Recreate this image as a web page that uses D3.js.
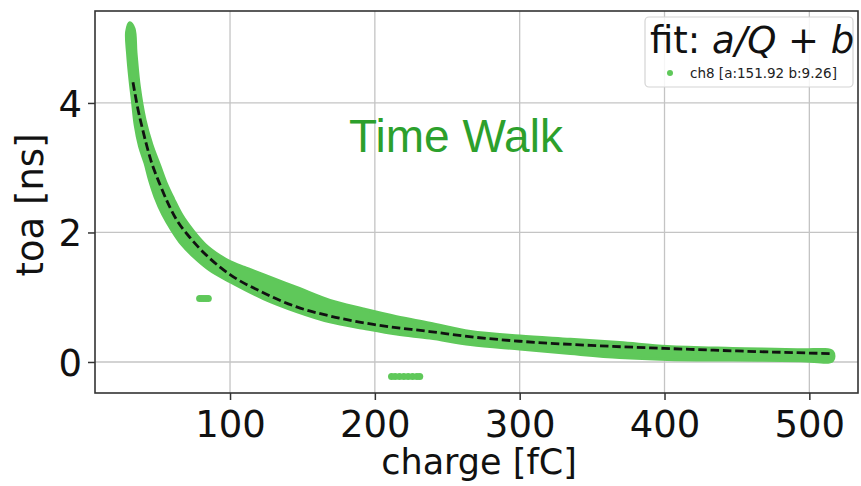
<!DOCTYPE html>
<html>
<head>
<meta charset="utf-8">
<script src="https://cdn.jsdelivr.net/npm/d3@7"></script>
<style>
  html, body { margin: 0; padding: 0; background: #fff; }
  svg { display: block; }
</style>
</head>
<body>
<svg id="chart" width="861" height="486"></svg>
<script>
// Measured time-of-arrival band (ch8): lower/left and upper/right edges of the point cloud
const lowerCharge = [28.6, 29.3, 30.9, 32.5, 34.5, 37.5, 41.3, 44.5, 48.2, 53.5, 59.7, 66.5, 74.7, 86, 100, 123, 146, 169, 192, 215, 238, 266, 300, 335, 369, 402, 447, 494, 516];
const lowerToa    = [5.10, 4.75, 4.36, 4.05, 3.66, 3.33, 3.07, 2.80, 2.55, 2.28, 2.04, 1.82, 1.63, 1.42, 1.24, 0.98, 0.78, 0.62, 0.52, 0.43, 0.37, 0.27, 0.20, 0.13, 0.07, 0.04, 0.03, 0.02, 0.02];
const upperCharge = [30.8, 33.7, 35.1, 37.4, 41.3, 46, 51.7, 56, 61, 67, 74.7, 83, 93, 100, 110, 123, 146, 169, 192, 215, 238, 266, 300, 335, 369, 402, 447, 494, 516];
const upperToa    = [5.24, 5.15, 4.77, 4.25, 3.74, 3.36, 3.02, 2.76, 2.52, 2.26, 2.02, 1.81, 1.64, 1.55, 1.46, 1.35, 1.15, 0.95, 0.82, 0.70, 0.60, 0.47, 0.40, 0.35, 0.30, 0.24, 0.21, 0.19, 0.16];

// Two small detached clusters of hits
const clusterACharge = [79, 80.5, 82, 83.5, 85];
const clusterAToa    = [0.98, 0.98, 0.98, 0.98, 0.98];
const clusterBCharge = [211.5, 214, 217, 220, 223, 226, 229, 231];
const clusterBToa    = [-0.224, -0.224, -0.224, -0.224, -0.224, -0.224, -0.224, -0.224];

// Fitted time-walk curve a/Q + b
const fitCharge = [33, 36, 40, 45, 52, 63, 72, 86, 100, 123, 146, 169, 199, 238, 270, 300, 355, 400, 450, 514];
const fitToa    = [4.32, 3.95, 3.56, 3.14, 2.72, 2.20, 1.93, 1.60, 1.35, 1.07, 0.85, 0.71, 0.58, 0.47, 0.38, 0.32, 0.25, 0.21, 0.17, 0.13];

const xTicks = [100, 200, 300, 400, 500];
const yTicks = [0, 2, 4];
const legendLabel = "ch8 [a:151.92 b:9.26]";

const green = "#5fc85a";
const plotLeft = 95, plotRight = 858, plotTop = 11, plotBottom = 393;
const dejavu = "'DejaVu Sans', sans-serif";

const svg = d3.select("#chart");
const x = d3.scaleLinear().domain([6.77, 533.6]).range([plotLeft, plotRight]);
const y = d3.scaleLinear().domain([-0.479, 5.42]).range([plotBottom, plotTop]);

// grid
const grid = svg.append("g");
grid.selectAll("line.vx").data(xTicks).join("line")
  .attr("x1", d => x(d)).attr("x2", d => x(d)).attr("y1", plotTop).attr("y2", plotBottom)
  .attr("stroke", "#c4c4c4").attr("stroke-width", 1.3);
grid.selectAll("line.hy").data(yTicks).join("line")
  .attr("x1", plotLeft).attr("x2", plotRight).attr("y1", d => y(d)).attr("y2", d => y(d))
  .attr("stroke", "#c4c4c4").attr("stroke-width", 1.3);

// scatter band as a closed outline
const outline = lowerCharge.map((c, i) => [c, lowerToa[i]])
  .concat(upperCharge.map((c, i) => [c, upperToa[i]]).reverse());
const bandPath = d3.line().x(d => x(d[0])).y(d => y(d[1])).curve(d3.curveCatmullRomClosed.alpha(0.5));
svg.append("path").attr("d", bandPath(outline))
  .attr("fill", green).attr("stroke", green).attr("stroke-width", 3).attr("stroke-linejoin", "round");

// detached clusters
const clusters = clusterACharge.map((c, i) => [c, clusterAToa[i]])
  .concat(clusterBCharge.map((c, i) => [c, clusterBToa[i]]));
svg.append("g").selectAll("circle").data(clusters).join("circle")
  .attr("cx", d => x(d[0])).attr("cy", d => y(d[1])).attr("r", 3.5).attr("fill", green);

// fit line
const fitLine = d3.line().x(d => x(d[0])).y(d => y(d[1])).curve(d3.curveMonotoneX);
svg.append("path").attr("d", fitLine(fitCharge.map((c, i) => [c, fitToa[i]])))
  .attr("fill", "none").attr("stroke", "#111").attr("stroke-width", 2.8)
  .attr("stroke-dasharray", "8.5,3.8");

// axes
const xAxis = svg.append("g").attr("transform", `translate(0,${plotBottom})`)
  .call(d3.axisBottom(x).tickValues(xTicks).tickSize(7).tickPadding(8).tickFormat(d3.format("d")));
const yAxis = svg.append("g").attr("transform", `translate(${plotLeft},0)`)
  .call(d3.axisLeft(y).tickValues(yTicks).tickSize(7).tickPadding(6).tickFormat(d3.format("d")));
[xAxis, yAxis].forEach(g => {
  g.select(".domain").remove();
  g.selectAll(".tick line").attr("stroke", "#333").attr("stroke-width", 1.5);
  g.selectAll(".tick text").style("font-family", dejavu).attr("font-size", 37).attr("fill", "#111");
});
xAxis.selectAll(".tick text").attr("dy", null).attr("y", 44);
yAxis.selectAll(".tick text").attr("dy", "0.36em");

// frame
svg.append("rect").attr("x", plotLeft).attr("y", plotTop)
  .attr("width", plotRight - plotLeft).attr("height", plotBottom - plotTop)
  .attr("fill", "none").attr("stroke", "#333").attr("stroke-width", 1.6);

// axis labels
svg.append("text").attr("x", 479).attr("y", 474).attr("text-anchor", "middle")
  .style("font-family", dejavu).attr("font-size", 35).attr("fill", "#111").text("charge [fC]");
svg.append("text").attr("transform", "translate(43,205) rotate(-90)").attr("text-anchor", "middle")
  .style("font-family", dejavu).attr("font-size", 37).attr("fill", "#111").text("toa [ns]");

// in-plot title
svg.append("text").attr("x", 456).attr("y", 152).attr("text-anchor", "middle")
  .style("font-family", "'Liberation Sans', Arial, sans-serif").attr("font-size", 46)
  .attr("fill", "#2ca02c").text("Time Walk");

// legend
const lg = svg.append("g");
lg.append("rect").attr("x", 645).attr("y", 17).attr("width", 208).attr("height", 70).attr("rx", 4)
  .attr("fill", "#fff").attr("fill-opacity", 0.85).attr("stroke", "#d4d4d4").attr("stroke-width", 1.2);
const title = lg.append("text").attr("x", 650).attr("y", 53).attr("font-size", 37)
  .style("font-family", dejavu).attr("fill", "#111");
title.append("tspan").text("fit: ");
title.append("tspan").attr("font-style", "italic").text("a/Q");
title.append("tspan").text(" + ");
title.append("tspan").attr("font-style", "italic").text("b");
lg.append("circle").attr("cx", 670).attr("cy", 73).attr("r", 3).attr("fill", green);
lg.append("text").attr("x", 690).attr("y", 78).attr("font-size", 13.5)
  .style("font-family", dejavu).attr("fill", "#222").text(legendLabel);
</script>
</body>
</html>
